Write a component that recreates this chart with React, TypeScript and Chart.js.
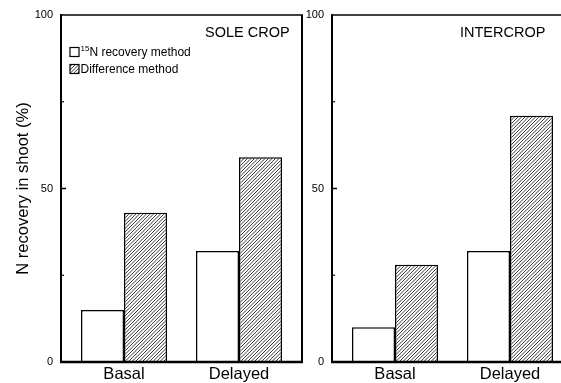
import React, { useEffect, useRef } from 'react';
import { Chart, registerables } from 'chart.js';

Chart.register(...registerables);

const FONT = '"Liberation Sans", Arial, Helvetica, sans-serif';
Chart.defaults.font.family = FONT;
Chart.defaults.color = '#000';

// ---- data ----
const categories = ['Basal', 'Delayed'];
const seriesNames = ['15N recovery method', 'Difference method'];
const soleCrop15N = [15, 32];
const soleCropDiff = [43, 59];
const intercrop15N = [10, 32];
const intercropDiff = [28, 71];
const yTicks = [0, 50, 100];
const yMinorTicks = [25, 75];
const panelTitles = ['SOLE CROP', 'INTERCROP'];
const yAxisTitle = 'N recovery in shoot (%)';

function makeHatch(ctx: CanvasRenderingContext2D) {
  const c = document.createElement('canvas');
  c.width = 7;
  c.height = 7;
  const g = c.getContext('2d')!;
  g.fillStyle = '#fff';
  g.fillRect(0, 0, 7, 7);
  g.strokeStyle = '#222';
  g.lineWidth = 0.9;
  g.beginPath();
  for (const k of [-7, -3.5, 0, 3.5, 7]) {
    g.moveTo(k, 7);
    g.lineTo(k + 7, 0);
  }
  g.stroke();
  return ctx.createPattern(c, 'repeat');
}

const framePlugin = {
  id: 'frame',
  afterDraw(chart: any, _args: any, opts: any) {
    const { ctx, chartArea: a, scales } = chart;
    const ys = scales.y;
    ctx.save();
    ctx.strokeStyle = '#000';
    const line = (x1: number, y1: number, x2: number, y2: number, w: number) => {
      ctx.lineWidth = w;
      ctx.beginPath();
      ctx.moveTo(x1, y1);
      ctx.lineTo(x2, y2);
      ctx.stroke();
    };
    line(a.left - 1, a.top, a.right + 1, a.top, 1.5);
    line(a.right, a.top, a.right, a.bottom, 2);
    line(a.left, a.top - 0.75, a.left, a.bottom, 2);
    line(a.left - 1, a.bottom, a.right + 1, a.bottom, 2.5);
    for (const v of yTicks) {
      if (v > ys.min && v < ys.max) {
        const p = ys.getPixelForValue(v);
        line(a.left, p, a.left + 5, p, 1.5);
      }
    }
    for (const v of yMinorTicks) {
      const p = ys.getPixelForValue(v);
      line(a.left, p, a.left + 3, p, 1.2);
    }
    ctx.fillStyle = '#000';
    ctx.textBaseline = 'middle';
    ctx.textAlign = 'left';
    ctx.font = `14.5px ${FONT}`;
    ctx.fillText(opts.title, a.left + opts.titleX, a.top + 18);

    if (opts.legend) {
      const bx = a.left + 9;
      const rows = [a.top + 37, a.top + 54];
      chart.data.datasets.forEach((ds: any, i: number) => {
        const y = rows[i];
        ctx.fillStyle = ds.backgroundColor;
        ctx.fillRect(bx, y - 4.5, 9, 9);
        ctx.lineWidth = 1.2;
        ctx.strokeStyle = '#000';
        ctx.strokeRect(bx, y - 4.5, 9, 9);
        ctx.fillStyle = '#000';
        let tx = bx + 10.5;
        const m = String(ds.label).match(/^(\d+)(.*)$/);
        let rest = ds.label;
        if (m) {
          ctx.font = `8px ${FONT}`;
          ctx.fillText(m[1], tx, y - 3);
          tx += ctx.measureText(m[1]).width;
          rest = m[2];
        }
        ctx.font = `12px ${FONT}`;
        ctx.fillText(rest, tx, y + 0.5);
      });
    }
    ctx.restore();
  },
};

function Panel(props: {
  left: number;
  d1: number[];
  d2: number[];
  title: string;
  titleX: number;
  showYTitle: boolean;
  showLegend: boolean;
}) {
  const ref = useRef<HTMLCanvasElement>(null);
  useEffect(() => {
    const canvas = ref.current!;
    const ctx = canvas.getContext('2d')!;
    const hatch = makeHatch(ctx);
    const chart = new Chart(canvas, {
      type: 'bar',
      data: {
        datasets: [
          {
            label: seriesNames[0],
            data: props.d1.map((y, i) => ({ x: i, y })),
            backgroundColor: '#fff',
            borderColor: '#000',
            borderWidth: 1.5,
            categoryPercentage: 0.748,
            barPercentage: 1,
          },
          {
            label: seriesNames[1],
            data: props.d2.map((y, i) => ({ x: i, y })),
            backgroundColor: hatch as any,
            borderColor: '#000',
            borderWidth: 1.5,
            categoryPercentage: 0.748,
            barPercentage: 1,
          },
        ],
      } as any,
      options: {
        responsive: false,
        animation: false,
        devicePixelRatio: 1,
        layout: { padding: { top: 15, right: 3, left: 0, bottom: 0 } },
        plugins: {
          legend: { display: false },
          tooltip: { enabled: false },
          frame: { title: props.title, titleX: props.titleX, legend: props.showLegend },
        } as any,
        scales: {
          x: {
            type: 'linear',
            min: -0.548,
            max: 1.548,
            offset: false,
            afterBuildTicks: (s: any) => {
              s.ticks = categories.map((_, i) => ({ value: i }));
            },
            ticks: {
              callback: (v: any) => categories[v] ?? '',
              font: { size: 16.5 },
              padding: 3,
              color: '#000',
              maxRotation: 0,
              autoSkip: false,
            },
            grid: { display: false, drawTicks: false },
            border: { display: false },
            afterFit: (s: any) => {
              s.height = 21;
            },
          },
          y: {
            min: 0,
            max: 100,
            afterBuildTicks: (s: any) => {
              s.ticks = yTicks.map((v) => ({ value: v }));
            },
            ticks: { font: { size: 11 }, padding: 8, color: '#000' },
            grid: { display: false, drawTicks: false },
            border: { display: false },
            title: {
              display: props.showYTitle,
              text: yAxisTitle,
              font: { size: 16.5 },
              padding: { top: 14, bottom: 0 },
              color: '#000',
            },
            afterFit: (s: any) => {
              s.width = 61;
            },
          },
        } as any,
      },
      plugins: [framePlugin],
    });
    return () => chart.destroy();
  }, []);
  return (
    <canvas
      ref={ref}
      width={305}
      height={383}
      style={{ position: 'absolute', left: props.left, top: 0, width: 305, height: 383 }}
    />
  );
}

export default function App() {
  return (
    <div
      style={{
        position: 'fixed',
        left: 0,
        top: 0,
        width: 561,
        height: 383,
        overflow: 'hidden',
        background: '#fff',
      }}
    >
      <Panel left={0} d1={soleCrop15N} d2={soleCropDiff} title={panelTitles[0]} titleX={144} showYTitle={true} showLegend={true} />
      <Panel left={271} d1={intercrop15N} d2={intercropDiff} title={panelTitles[1]} titleX={128} showYTitle={false} showLegend={false} />
    </div>
  );
}
